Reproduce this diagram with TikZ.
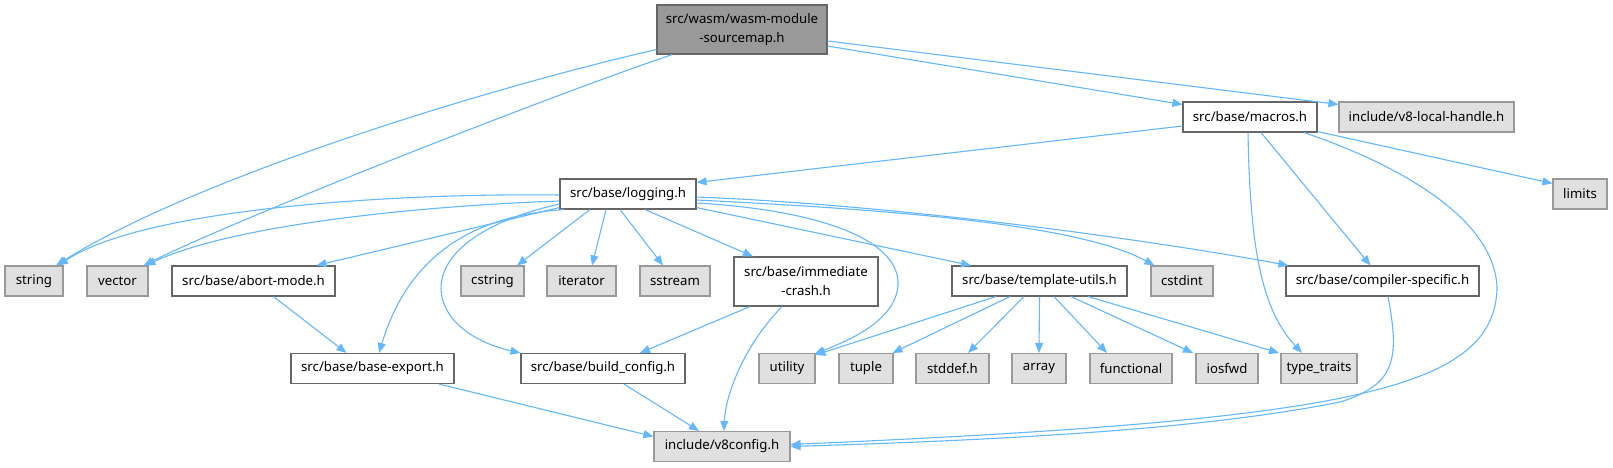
\documentclass[tikz,border=0pt]{standalone}
\usepackage{fontspec}
\setmainfont{Noto Sans}
\usetikzlibrary{arrows.meta,calc}
\definecolor{edgeblue}{HTML}{63B8FF}
\definecolor{boxdark}{HTML}{666666}
\definecolor{boxlight}{HTML}{999999}
\definecolor{boxgray}{HTML}{E0E0E0}
\definecolor{rootfill}{HTML}{999999}
\tikzset{
  basebox/.style={rectangle, line width=1.1pt, inner sep=0pt, minimum height=30pt,
    font=\fontsize{13.2}{19}\selectfont, align=center},
  wbox/.style={basebox, fill=white, draw=boxdark},
  gbox/.style={basebox, fill=boxgray, draw=boxlight},
  rootbox/.style={basebox, fill=rootfill, draw=boxdark, minimum height=49pt},
  dep/.style={draw=edgeblue, line width=1.1pt, -{Triangle[length=10pt,width=8pt]}},
}
\begin{document}
\begin{tikzpicture}[x=1pt,y=-1pt]
\path[use as bounding box, fill=white] (0,0) rectangle (1613,467);
% nodes
\node[rootbox, minimum width=170pt] (root) at (742,29.5) {src/wasm/wasm-module\\-sourcemap.h};
\node[wbox, minimum width=134pt] (macros) at (1250,117) {src/base/macros.h};
\node[gbox, minimum width=175pt] (v8lh) at (1426.5,117) {include/v8-local-handle.h};
\node[gbox, minimum width=54pt] (limits) at (1580,194) {limits};
\node[wbox, minimum width=136pt] (logging) at (628,194) {src/base/logging.h};
\node[gbox, minimum width=58pt] (string) at (34,281) {string};
\node[gbox, minimum width=61pt] (vector) at (117.5,281) {vector};
\node[wbox, minimum width=163pt] (abort) at (253.5,281) {src/base/abort-mode.h};
\node[gbox, minimum width=63pt] (cstring) at (492.5,281) {cstring};
\node[gbox, minimum width=69pt] (iterator) at (581.5,281) {iterator};
\node[gbox, minimum width=70pt] (sstream) at (675,281) {sstream};
\node[wbox, minimum width=144pt, minimum height=49pt] (immediate) at (806,281.5) {src/base/immediate\\-crash.h};
\node[wbox, minimum width=175pt] (template) at (1039.5,281) {src/base/template-utils.h};
\node[gbox, minimum width=62pt] (cstdint) at (1182,281) {cstdint};
\node[wbox, minimum width=193pt] (compiler) at (1382.5,281) {src/base/compiler-specific.h};
\node[wbox, minimum width=163pt] (baseexp) at (372.5,368.5) {src/base/base-export.h};
\node[wbox, minimum width=164pt] (build) at (603,368.5) {src/base/build\_config.h};
\node[gbox, minimum width=56pt] (utility) at (787,368.5) {utility};
\node[gbox, minimum width=54pt] (tuple) at (866,368.5) {tuple};
\node[gbox, minimum width=73pt] (stddef) at (952.5,368.5) {stddef.h};
\node[gbox, minimum width=54pt] (array) at (1039,368.5) {array};
\node[gbox, minimum width=82pt] (functional) at (1131,368.5) {functional};
\node[gbox, minimum width=62pt] (iosfwd) at (1227,368.5) {iosfwd};
\node[gbox, minimum width=76pt] (typetraits) at (1319,368.5) {type\_traits};
\node[gbox, minimum width=136pt] (v8config) at (722,446.5) {include/v8config.h};

% root edges
\draw[dep] ($(root.south west)+(0,-5)$) .. controls (500,85) and (200,175) .. ($(string.north)+(22,0)$);
\draw[dep] ($(root.south west)+(16,0)$) .. controls (560,92) and (241,217) .. ($(vector.north)+(26,0)$);
\draw[dep] ($(root.east)+(0,16.5)$) -- ($(macros.north west)+(0,3)$);
\draw[dep] ($(root.east)+(0,11.5)$) -- ($(v8lh.north west)+(0,3)$);

% macros edges
\draw[dep] ($(macros.west)+(0,9)$) -- ($(logging.north east)+(0,4)$);
\draw[dep] ($(macros.south east)+(0,-1)$) -- ($(limits.north west)+(0,5)$);
\draw[dep] ($(macros.south)+(-2,0)$) .. controls (1250,250) and (1262,310) .. ($(typetraits.north)+(-17,0)$);
\draw[dep] ($(macros.south)+(11,0)$) -- ($(compiler.north)+(-12,0)$);
\draw[dep] ($(macros.south)+(54,0)$) .. controls (1400,165) and (1497,220) .. (1497,290)
   .. controls (1492,390) and (1350,420) .. ($(v8config.east)+(0,-2)$);

% logging edges
\draw[dep] ($(logging.west)+(0,1)$) .. controls (420,193) and (150,205) .. ($(string.north)+(24,0)$);
\draw[dep] ($(logging.west)+(0,7)$) .. controls (440,205) and (240,222) .. ($(vector.north)+(28,0)$);
\draw[dep] ($(logging.south west)+(0,-2)$) -- ($(abort.north)+(63,0)$);
\draw[dep] ($(logging.south west)+(5,0)$) .. controls (480,215) and (410,250) .. ($(baseexp.north)+(6.5,0)$);
\draw[dep] ($(logging.west)+(0,10)$) .. controls (400,240) and (420,330) .. (build.north west);
\draw[dep] ($(logging.south)+(-38,0)$) -- ($(cstring.north)+(24.5,0)$);
\draw[dep] ($(logging.south)+(-22,0)$) -- ($(iterator.north)+(10.5,0)$);
\draw[dep] ($(logging.south)+(-8,0)$) -- ($(sstream.north)+(-12,0)$);
\draw[dep] ($(logging.south)+(17,0)$) -- ($(immediate.north)+(-53,0)$);
\draw[dep] ($(logging.south east)+(0,-2)$) -- ($(template.north)+(-68.5,0)$);
\draw[dep] ($(logging.east)+(0,9)$) .. controls (820,210) and (900,240) .. (898,285)
   .. controls (896,320) and (850,340) .. ($(utility.north east)+(-1,1)$);
\draw[dep] ($(logging.east)+(0,6)$) .. controls (900,210) and (1080,225) .. ($(cstdint.north west)+(4,0)$);
\draw[dep] ($(logging.east)+(0,3)$) .. controls (900,205) and (1150,240) .. ($(compiler.north west)+(3,0)$);

% lower edges
\draw[dep] ($(abort.south)+(20,0)$) -- ($(baseexp.north)+(-26,0)$);
\draw[dep] ($(immediate.south)+(-56,0)$) -- ($(build.north)+(37,0)$);
\draw[dep] ($(immediate.south)+(-24,0)$) .. controls (740,350) and (725,400) .. ($(v8config.north)+(2,0)$);
\draw[dep] ($(baseexp.south)+(66.5,0)$) -- ($(v8config.west)+(0,-10)$);
\draw[dep] ($(build.south)+(21,0)$) -- ($(v8config.north)+(-23,0)$);
\draw[dep] ($(compiler.south)+(5.5,0)$) .. controls (1400,360) and (1395,385) .. (1340,402)
   .. controls (1200,430) and (1000,440) .. ($(v8config.east)+(0,0)$);

% template-utils edges
\draw[dep] ($(template.south)+(-43.5,0)$) -- ($(utility.north east)+(0,2)$);
\draw[dep] ($(template.south)+(-29.5,0)$) -- ($(tuple.north east)+(-1,0)$);
\draw[dep] ($(template.south)+(-15.5,0)$) -- ($(stddef.north)+(15.5,0)$);
\draw[dep] (template.south) -- (array.north);
\draw[dep] ($(template.south)+(14.5,0)$) -- ($(functional.north)+(-24,0)$);
\draw[dep] ($(template.south)+(31.5,0)$) -- ($(iosfwd.north)+(-34,0)$);
\draw[dep] ($(template.south)+(48.5,0)$) -- ($(typetraits.north)+(-40,0)$);
\end{tikzpicture}
\end{document}
